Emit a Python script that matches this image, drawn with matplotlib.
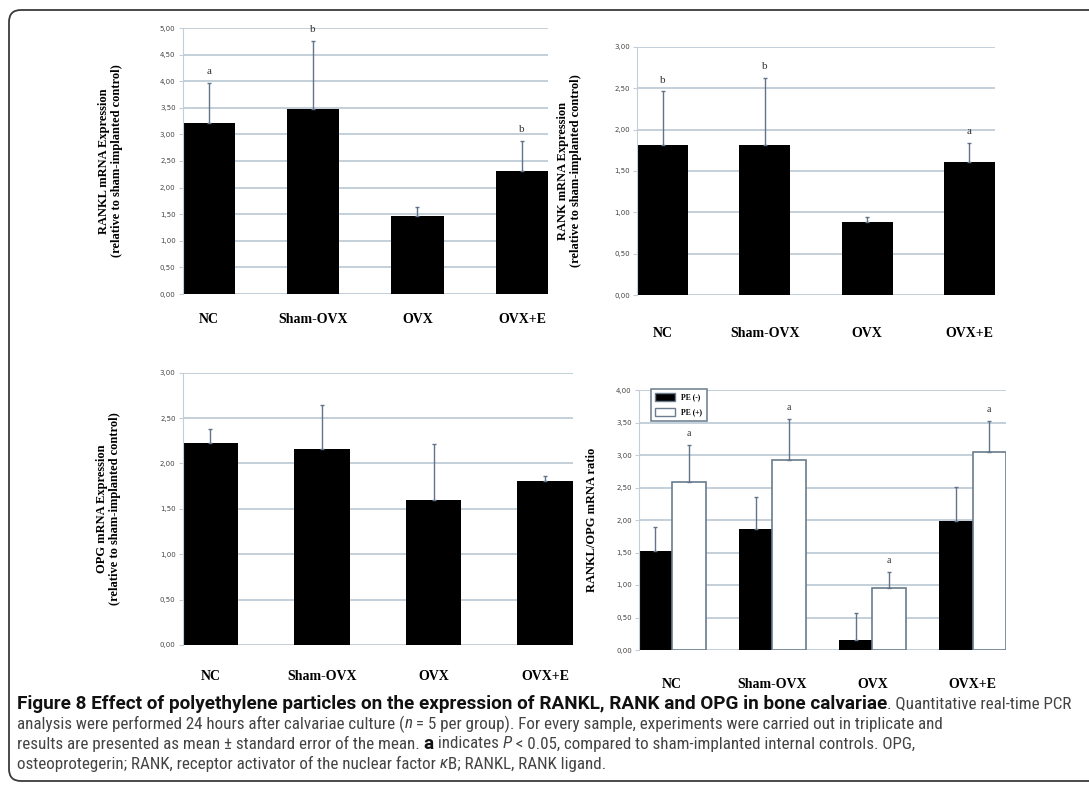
import numpy as np
import matplotlib
matplotlib.use('Agg')
import matplotlib.pyplot as plt
from matplotlib.patches import FancyBboxPatch, Patch
from matplotlib import font_manager

groups = ['NC', 'Sham-OVX', 'OVX', 'OVX+E']

rankl_mean = [3.21, 3.48, 1.47, 2.31]
rankl_err = [0.75, 1.28, 0.17, 0.57]
rankl_sig = ['a', 'b', '', 'b']

rank_mean = [1.81, 1.81, 0.88, 1.61]
rank_err = [0.65, 0.81, 0.06, 0.23]
rank_sig = ['b', 'b', '', 'a']

opg_mean = [2.22, 2.155, 1.60, 1.81]
opg_err = [0.16, 0.49, 0.61, 0.05]
opg_sig = ['', '', '', '']

ratio_minus = [1.52, 1.86, 0.15, 1.99]
ratio_minus_err = [0.37, 0.50, 0.42, 0.52]
ratio_plus = [2.58, 2.92, 0.95, 3.04]
ratio_plus_err = [0.57, 0.63, 0.25, 0.48]
ratio_sig = ['a', 'a', 'a', 'a']

SERIF = ['Liberation Serif', 'DejaVu Serif']
GRID = '#b3c2d0'
ERR = '#62748a'

W, H = 1089, 790
fig = plt.figure(figsize=(W / 100, H / 100), dpi=100)

# background axes in pixel units for the frame and caption
bg = fig.add_axes([0, 0, 1, 1], zorder=-5)
bg.set_xlim(0, W)
bg.set_ylim(H, 0)
bg.axis('off')
bg.add_patch(FancyBboxPatch((9, 10), 1095, 771, boxstyle='round,pad=0,rounding_size=12',
                            fc='white', ec='#3a3a3a', lw=1.3))


def px_rect(x0, x1, ytop, ybot):
    return [x0 / W, 1 - ybot / H, (x1 - x0) / W, (ybot - ytop) / H]


def style_axes(ax, ymax, ylabel, label_x, xpad):
    ax.set_ylim(0, ymax)
    ticks = np.arange(0, ymax + 0.01, 0.5)
    ax.set_yticks(ticks)
    ax.set_yticklabels(['{:.2f}'.format(t).replace('.', ',') for t in ticks])
    ax.yaxis.grid(True, color=GRID, lw=1.1)
    ax.set_axisbelow(True)
    for s in ['top', 'right', 'bottom']:
        ax.spines[s].set_visible(False)
    ax.spines['left'].set_color('#c5ced8')
    ax.tick_params(axis='y', length=3, color='#c5ced8', labelsize=5, labelcolor='#444', pad=2)
    ax.tick_params(axis='x', length=0, pad=xpad)
    for lab in ax.get_xticklabels():
        lab.set_fontfamily(SERIF)
        lab.set_fontweight('bold')
        lab.set_fontsize(10)
    ax.set_ylabel(ylabel, fontfamily=SERIF, fontweight='bold', fontsize=9, linespacing=1.1)
    ax.yaxis.set_label_coords(label_x, 0.5)


def single_panel(rect, means, errs, sig, ymax, ylabel, label_x, xpad):
    ax = fig.add_axes(rect)
    x = np.arange(len(groups))
    w = 0.5
    ax.bar(x, means, w, align='edge', color='black', zorder=2)
    xc = x + w / 2
    ax.errorbar(xc, means, yerr=[np.zeros(len(errs)), errs], fmt='none', ecolor=ERR,
                elinewidth=1, capsize=1.5, capthick=1, zorder=3)
    for xi, m, e, s in zip(xc, means, errs, sig):
        if s:
            ax.annotate(s, (xi, m + e), xytext=(0, 5), textcoords='offset points',
                        ha='center', va='bottom', fontsize=8, fontfamily=SERIF, color='#333')
    ax.set_xlim(0, len(groups) - 1 + w)
    ax.set_xticks(xc)
    ax.set_xticklabels(groups)
    style_axes(ax, ymax, ylabel, label_x, xpad)
    return ax


single_panel(px_rect(182.5, 548, 28, 294), rankl_mean, rankl_err, rankl_sig, 5,
             'RANKL mRNA Expression\n(relative to sham-implanted control)', -0.163, 14)
single_panel(px_rect(637, 995, 46.7, 295.3), rank_mean, rank_err, rank_sig, 3,
             'RANK mRNA Expression\n(relative to sham-implanted control)', -0.154, 23)
single_panel(px_rect(182.5, 573, 372.7, 645), opg_mean, opg_err, opg_sig, 3,
             'OPG mRNA Expression\n(relative to sham-implanted control)', -0.157, 18)

# RANKL/OPG ratio panel
ax = fig.add_axes(px_rect(638.75, 1006, 390, 650))
x = np.arange(len(groups))
w = 1 / 3
ax.bar(x, ratio_minus, w, align='edge', color='black', zorder=2, label='PE (-)')
ax.bar(x + w, ratio_plus, w, align='edge', color='white', edgecolor='#6a7c8e', lw=1.2,
       zorder=2, label='PE (+)')
ax.errorbar(x + w / 2, ratio_minus, yerr=[np.zeros(4), ratio_minus_err], fmt='none', ecolor=ERR,
            elinewidth=1, capsize=1.5, capthick=1, zorder=3)
ax.errorbar(x + 1.5 * w, ratio_plus, yerr=[np.zeros(4), ratio_plus_err], fmt='none', ecolor=ERR,
            elinewidth=1, capsize=1.5, capthick=1, zorder=3)
for xi, m, e, s in zip(x + 1.5 * w, ratio_plus, ratio_plus_err, ratio_sig):
    ax.annotate(s, (xi, m + e), xytext=(0, 5), textcoords='offset points',
                ha='center', va='bottom', fontsize=7, fontfamily=SERIF, color='#333')
ax.set_xlim(0, len(groups) - 1 + 2 * w)
ax.set_xticks(x + w)
ax.set_xticklabels(groups)
style_axes(ax, 4, 'RANKL/OPG mRNA ratio', -0.111, 20)
leg = ax.legend(handles=[Patch(fc='black', ec='#6a7c8e', label='PE (-)'),
                         Patch(fc='white', ec='#6a7c8e', label='PE (+)')],
                loc='upper left', bbox_to_anchor=(0.0225, 1.02), fancybox=False,
                edgecolor='#6a7c8e', framealpha=1, handlelength=2.6, handleheight=1.1,
                borderpad=0.6, labelspacing=0.9, handletextpad=0.8,
                prop={'family': SERIF, 'weight': 'bold', 'size': 5.5})
leg.get_frame().set_linewidth(1.1)


# caption: prefer a condensed sans if one is installed
def first_font(names):
    for name in names:
        try:
            font_manager.findfont(font_manager.FontProperties(family=name),
                                  fallback_to_default=False)
            return name
        except ValueError:
            pass
    return 'DejaVu Sans'


CAP = [first_font(['Roboto Condensed', 'Open Sans Condensed', 'Liberation Sans Narrow',
                   'DejaVu Sans Condensed', 'Liberation Sans']), 'DejaVu Sans']
CAP_BOLD = [first_font(['Roboto', 'Liberation Sans']), 'DejaVu Sans']
cap_lines = [
    [('Figure 8 Effect of polyethylene particles on the expression of RANKL, RANK and OPG in bone calvariae', 'bold', 'normal'),
     ('. Quantitative real-time PCR', 'normal', 'normal')],
    [('analysis were performed 24 hours after calvariae culture (', 'normal', 'normal'),
     ('n', 'normal', 'italic'),
     (' = 5 per group). For every sample, experiments were carried out in triplicate and', 'normal', 'normal')],
    [('results are presented as mean \u00b1 standard error of the mean. ', 'normal', 'normal'),
     ('a', 'bold', 'normal'),
     (' indicates ', 'normal', 'normal'),
     ('P', 'normal', 'italic'),
     (' < 0.05, compared to sham-implanted internal controls. OPG,', 'normal', 'normal')],
    [('osteoprotegerin; RANK, receptor activator of the nuclear factor ', 'normal', 'normal'),
     ('\u03ba', 'normal', 'italic'),
     ('B; RANKL, RANK ligand.', 'normal', 'normal')],
]
cap_y = [704, 724, 744, 764]
cap_x = 17
cap_size = 11
cap_artists = []
line_arts = []
for y, segs in zip(cap_y, cap_lines):
    prev = None
    arts = []
    for txt, wt, st in segs:
        col = '#111' if wt == 'bold' else '#444'
        kw = dict(fontfamily=CAP_BOLD if wt == 'bold' else CAP, fontsize=cap_size,
                  fontweight=wt, fontstyle=st, color=col, ha='left', va='center')
        if prev is None:
            prev = bg.text(cap_x, y, txt, **kw)
        else:
            prev = bg.annotate(txt, xy=(1, 0.5), xycoords=prev, **kw)
        cap_artists.append((prev, wt))
        arts.append(prev)
    line_arts.append(arts)

# fit: bold title should end near x=885, second line near x=943
fig.canvas.draw()
bold_end = line_arts[0][0].get_window_extent().x1
bold_scale = (885 - cap_x) / (bold_end - cap_x)
reg_end = line_arts[1][-1].get_window_extent().x1
reg_scale = (943 - cap_x) / (reg_end - cap_x)
for a, wt in cap_artists:
    a.set_fontsize(cap_size * (bold_scale if wt == 'bold' else reg_scale))

fig.savefig('out.png', dpi=100)
